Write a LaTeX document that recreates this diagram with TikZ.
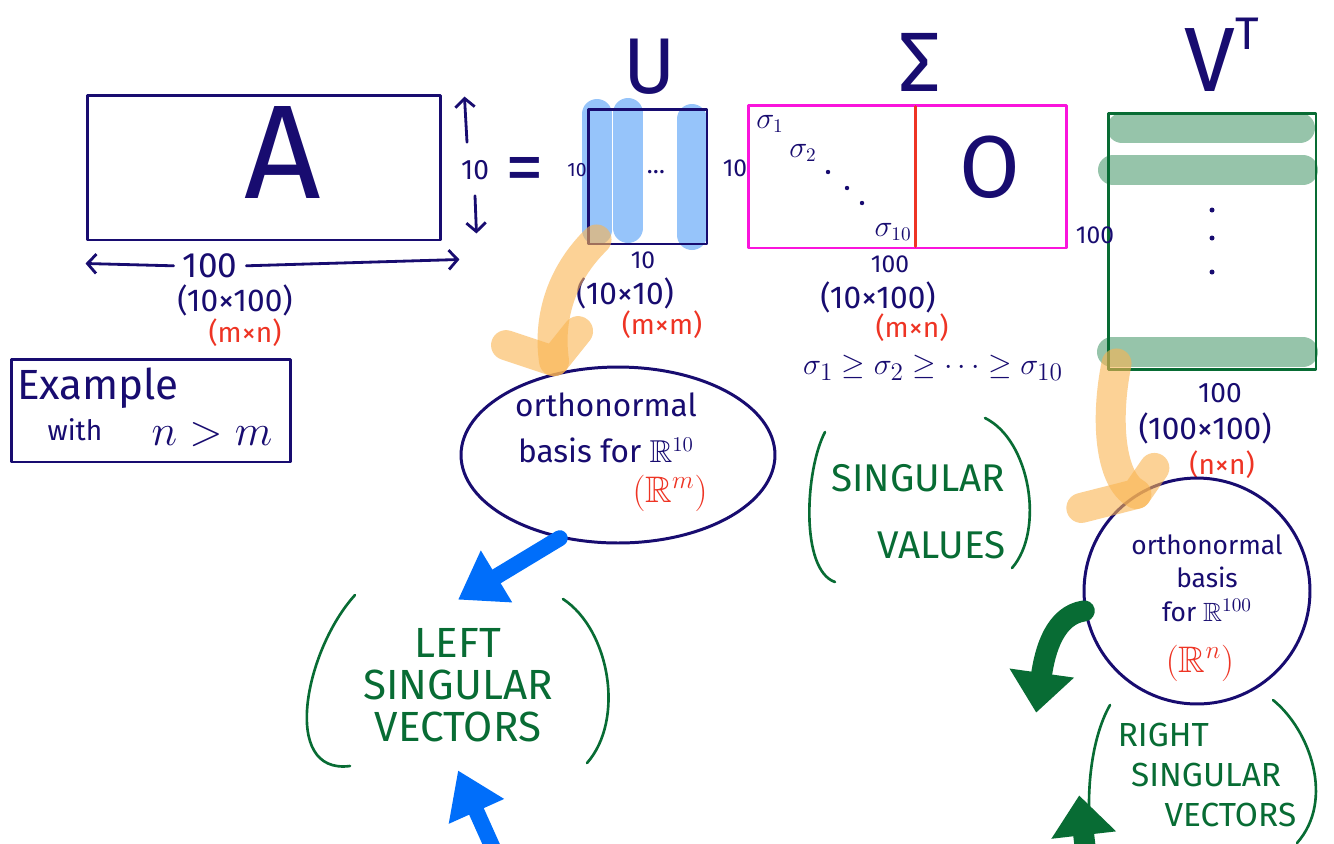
\documentclass[tikz,border=0pt]{standalone}
\usepackage{fontspec}
\usepackage{amsmath}
\usepackage{amssymb}
\setmainfont{Fira Sans}
\usetikzlibrary{arrows.meta, positioning, calc, shapes.geometric}
\definecolor{penblue}{RGB}{24,12,112}
\definecolor{penred}{RGB}{238,52,36}
\definecolor{pengreen}{RGB}{8,108,52}
\definecolor{penpink}{RGB}{250,20,220}
\definecolor{hlblue}{RGB}{150,196,250}
\definecolor{hlgreen}{RGB}{150,196,170}
\definecolor{hlorange}{RGB}{250,180,80}
\definecolor{arrowblue}{RGB}{0,110,250}

\begin{document}
\begin{tikzpicture}[x=0.02cm, y=-0.02cm, line cap=round, line join=round,
  mat/.style={draw=penblue, line width=1.7pt, inner sep=0pt},
  dimtxt/.style={text=penblue, inner sep=1pt, font=\fontsize{14}{16}\selectfont},
  sizetxt/.style={text=penblue, inner sep=1pt, font=\fontsize{18}{20}\selectfont},
  shapetxt/.style={text=penred, inner sep=1pt, font=\fontsize{16}{18}\selectfont},
  bigtxt/.style={text=penblue, inner sep=0pt},
  greentxt/.style={text=pengreen, inner sep=0pt},
  paren/.style={draw=pengreen, line width=1.5pt},
  hl/.style={line width=0.6cm},
  dimarrow/.style={draw=penblue, line width=1.6pt, -{Straight Barb[length=5pt,width=11pt]}},
  hlarrow/.style={draw=hlorange, opacity=0.6, line width=0.6cm},
  bluearrow/.style={draw=arrowblue, line width=0.32cm, -{Triangle[length=0.9cm,width=1.15cm]}},
  greenarrow/.style={draw=pengreen, line width=0.42cm, -{Triangle[length=0.8cm,width=1.25cm]}}]
  \useasboundingbox (0,0) rectangle (1334,843);
  \fill[white] (0,0) rectangle (1334,843);

  % Names of the factors
  \node[bigtxt, font=\fontsize{45}{50}\selectfont] (Uname) at (650,67) {U};
  \node[bigtxt, font=\fontsize{48}{50}\selectfont] (Sname) at (920,62) {Σ};
  \node[bigtxt, font=\fontsize{52}{56}\selectfont] (Vname) at (1222,55) {V\raisebox{24pt}{\fontsize{26}{28}\selectfont T}};

  % A
  \node[mat, minimum width=7.08cm, minimum height=2.9cm] (A) at (264,167.5) {};
  \node[bigtxt, font=\fontsize{76}{80}\selectfont] (Aname) at (283,152) {A};
  \node[dimtxt, font=\fontsize{20}{22}\selectfont] (Aw) at (210,266) {100};
  \draw[dimarrow, shorten <=4pt] (Aw.west) -- ([shift={(0,22)}]A.south west);
  \draw[dimarrow, shorten <=4pt] (Aw.east) -- ([shift={(17,18)}]A.south east);
  \node[sizetxt] (Asz) at (235,300) {(10×100)};
  \node[shapetxt] (Ash) at (245,333) {(m×n)};
  \node[dimtxt, font=\fontsize{16}{18}\selectfont] (Ah) at (475,170) {10};
  \draw[dimarrow] ([shift={(-8,-16)}]Ah.north) -- ([shift={(22,3)}]A.north east);
  \draw[dimarrow] ([shift={(0,14)}]Ah.south) -- ([shift={(34,-8)}]A.south east);
  \node[bigtxt, font=\fontsize{44}{46}\selectfont] (eq) at (525,175) {=};

  % U with its columns
  \foreach \x/\ya/\yb in {597/114/230, 628/113/228, 692/119/235}
    \draw[hl, hlblue] (\x,\ya) -- (\x,\yb);
  \node[mat, minimum width=2.38cm, minimum height=2.7cm] (U) at (647.5,176.5) {};
  \node[dimtxt] (Udots) at (656,172) {\dots};
  \node[dimtxt, font=\fontsize{11}{12}\selectfont] (Ul) at (577,170) {10};
  \node[dimtxt] (Uw) at (643,260) {10};
  \node[dimtxt] (Ur) at (735,168) {10};
  \node[sizetxt] (Usz) at (625,293) {(10×10)};
  \node[shapetxt] (Ush) at (662,325) {(m×m)};

  % Sigma
  \node[mat, draw=penpink, minimum width=6.38cm, minimum height=2.86cm] (S) at (907.5,176.5) {};
  \draw[penred, line width=1.7pt] ([shift={(7.5,3)}]S.north) -- ([shift={(7.5,-3)}]S.south);
  \node[dimtxt, font=\fontsize{16}{18}\selectfont] (s1) at (770,124) {$\sigma_1$};
  \node[dimtxt, font=\fontsize{16}{18}\selectfont] (s2) at (803,153) {$\sigma_2$};
  \foreach \x/\y in {828/172, 847/188, 862/203}
    \fill[penblue] (\x,\y) circle (2.2);
  \node[dimtxt, font=\fontsize{16}{18}\selectfont] (s10) at (893,232) {$\sigma_{10}$};
  \node[bigtxt, font=\fontsize{50}{56}\selectfont] (zero) at (990,167) {O};
  \node[dimtxt] (Sw) at (890,264) {100};
  \node[sizetxt] (Ssz) at (878,297) {(10×100)};
  \node[shapetxt] (Ssh) at (912,328) {(m×n)};
  \node[sizetxt, font=\fontsize{19}{22}\selectfont] (order) at (933,368)
    {$\sigma_1\geq\sigma_2\geq\cdots\geq\sigma_{10}$};

  % V transpose with its rows
  \foreach \y/\xa/\xb in {128/1122/1300, 170/1113/1303, 352/1112/1303}
    \draw[hl, hlgreen] (\xa,\y) -- (\xb,\y);
  \node[mat, draw=pengreen, minimum width=4.16cm, minimum height=5.14cm] (V) at (1212,241.5) {};
  \foreach \y in {210, 238, 272}
    \fill[penblue] (1212,\y) circle (2.5);
  \node[dimtxt] (Vl) at (1095,235) {100};
  \node[dimtxt, font=\fontsize{16}{18}\selectfont] (Vw) at (1220,393) {100};
  \node[sizetxt] (Vsz) at (1205,428) {(100×100)};
  \node[shapetxt] (Vsh) at (1222,465) {(n×n)};

  % Bases
  \node[ellipse, draw=penblue, line width=1.7pt, minimum width=6.28cm, minimum height=3.52cm] (ubasis) at (618,455) {};
  \node[bigtxt, align=center, font=\fontsize{18}{26}\selectfont] (ubtxt) at (606,428)
    {orthonormal\\basis for $\mathbb{R}^{10}$};
  \node[shapetxt, font=\fontsize{21}{24}\selectfont] (ubm) at (670,493) {$(\mathbb{R}^m)$};
  \node[circle, draw=penblue, line width=1.7pt, minimum size=4.52cm] (vbasis) at (1197,591) {};
  \node[bigtxt, align=center, font=\fontsize{15}{19}\selectfont] (vbtxt) at (1207,578)
    {orthonormal\\basis\\for $\mathbb{R}^{100}$};
  \node[shapetxt, font=\fontsize{21}{24}\selectfont] (vbn) at (1200,663) {$(\mathbb{R}^n)$};

  % Highlighter arrows
  \coordinate (utip) at ([shift={(0,-12)}]ubasis.128);
  \coordinate (vtip) at (vbasis.122);
  \draw[hlarrow] ([shift={(10,-6)}]U.south west) .. controls (560,275) and (548,320) .. (utip);
  \draw[hlarrow] ([shift={(-48,-16)}]utip) -- (utip) -- ([shift={(24,-30)}]utip);
  \draw[hlarrow] ([shift={(10,-8)}]V.south west) .. controls (1105,420) and (1110,480) .. (vtip);
  \draw[hlarrow] ([shift={(-55,14)}]vtip) -- (vtip) -- ([shift={(18,-26)}]vtip);

  % Singular vectors and values
  \node[greentxt, align=center, minimum height=3.4cm, font=\fontsize{24}{24}\selectfont] (lsv) at (458,685)
    {LEFT\\SINGULAR\\VECTORS};
  \draw[paren] (355,595) .. controls (305,650) and (280,775) .. (350,766);
  \draw[paren] (563,599) .. controls (610,630) and (625,720) .. (587,763);
  \node[greentxt, align=center, font=\fontsize{22}{38}\selectfont] (sv) at (918,512)
    {SINGULAR\\\hspace{1.2em}VALUES};
  \draw[paren] (825,432) .. controls (805,470) and (800,570) .. (835,582);
  \draw[paren] (985,418) .. controls (1030,440) and (1045,530) .. (1012,568);
  \node[greentxt, align=left, minimum width=4.5cm, minimum height=2.6cm, font=\fontsize{19}{23}\selectfont] (rsv) at (1207,775)
    {RIGHT\\\hspace{0.4em}SINGULAR\\\hspace{1.4em}VECTORS};
  \draw[paren] (1110,705) .. controls (1090,740) and (1085,800) .. (1092,843);
  \draw[paren] (1273,700) .. controls (1310,730) and (1335,800) .. (1297,843);

  % Pointers to the words
  \coordinate (lsvin) at (505,875);
  \coordinate (rsvin) at (1090,890);
  \draw[bluearrow] (ubasis.235) -- (lsv.north);
  \draw[bluearrow] (lsvin) -- (lsv.south);
  \draw[greenarrow] (vbasis.190) .. controls (1055,615) and (1045,650) .. ([shift={(-58,3)}]rsv.north west);
  \draw[greenarrow] (rsvin) -- ([shift={(-15,-45)}]rsv.south west);

  % Example box
  \node[mat, minimum width=5.6cm, minimum height=2.06cm] (ex) at (151,410.5) {};
  \node[bigtxt, font=\fontsize{24}{26}\selectfont] (exa) at (98,388) {Example};
  \node[bigtxt, font=\fontsize{16}{18}\selectfont] (exb) at (75,430) {with};
  \node[bigtxt, font=\fontsize{24}{26}\selectfont] (exc) at (212,435) {$n > m$};
\end{tikzpicture}
\end{document}
